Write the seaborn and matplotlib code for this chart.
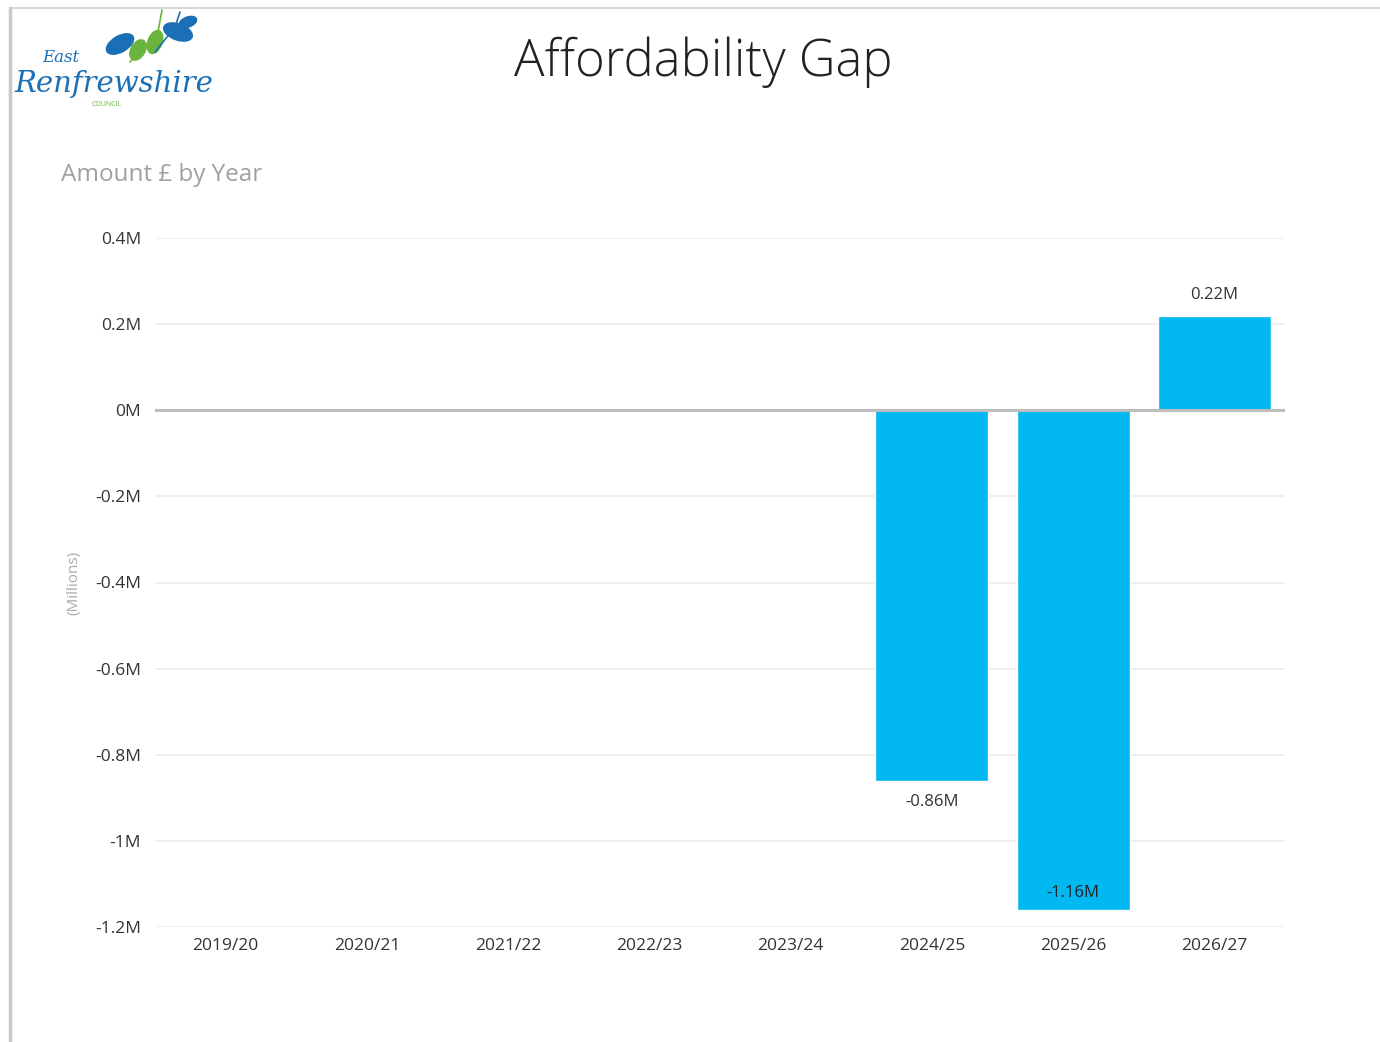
import matplotlib
matplotlib.use("Agg")
import matplotlib.pyplot as plt
import seaborn as sns
import pandas as pd
from matplotlib.lines import Line2D
from matplotlib.patches import Ellipse

years = ["2019/20", "2020/21", "2021/22", "2022/23", "2023/24", "2024/25", "2025/26", "2026/27"]
amounts = [0, 0, 0, 0, 0, -0.86, -1.16, 0.22]
label_values = [None, None, None, None, None, "-0.86M", "-1.16M", "0.22M"]
yticks = [0.4, 0.2, 0.0, -0.2, -0.4, -0.6, -0.8, -1.0, -1.2]
ytick_labels = ["0.4M", "0.2M", "0M", "-0.2M", "-0.4M", "-0.6M", "-0.8M", "-1M", "-1.2M"]

sns.set_theme(style="white")
plt.rcParams['font.family'] = ['Open Sans', 'DejaVu Sans']

df = pd.DataFrame({"Year": years, "Amount": amounts})

fig = plt.figure(figsize=(13.8, 10.42), dpi=100)
ax = fig.add_axes([155/1380, 1-927/1042, (1285-155)/1380, (927-238)/1042])

sns.barplot(data=df, x="Year", y="Amount", color="#01B8F0", saturation=1,
            width=0.8, ax=ax, zorder=3)

ax.set_ylim(-1.2, 0.4)
ax.set_xlim(-0.5, len(years) - 0.5)
ax.set_yticks(yticks)
ax.set_yticklabels(ytick_labels)
for t in yticks:
    if t == 0:
        continue
    ax.axhline(t, color="#ececec", lw=1.2, zorder=1)
ax.axhline(0, color="#bdbdbd", lw=2.2, zorder=4)

for s in ax.spines.values():
    s.set_visible(False)
ax.tick_params(axis="both", length=0, labelsize=12.5, colors="#333333")
ax.tick_params(axis="x", pad=8)
ax.tick_params(axis="y", pad=10)
ax.set_xlabel("")
ax.set_ylabel("(Millions)", color="#aaaaaa", fontsize=11, labelpad=10)

for i, (v, lab) in enumerate(zip(amounts, label_values)):
    if lab is None:
        continue
    if v >= 0:
        ax.text(i, v + 0.03, lab, ha="center", va="bottom", fontsize=12, color="#333333")
    elif v < -1.0:
        ax.text(i, v + 0.02, lab, ha="center", va="bottom", fontsize=12, color="#222222")
    else:
        ax.text(i, v - 0.03, lab, ha="center", va="top", fontsize=12, color="#333333")

fig.text(703/1380, 1-62/1042, "Affordability Gap", ha="center", va="center",
         fontsize=36.5, color="#222222", fontweight="light")
fig.text(61/1380, 1-175/1042, "Amount £ by Year", ha="left", va="center",
         fontsize=17.5, color="#a0a0a0")

# logo: text plus simple leaf shapes
fig.text(42/1380, 1-58/1042, "East", ha="left", va="center", fontsize=12,
         color="#1a6fb5", family="DejaVu Serif", style="italic")
fig.text(14/1380, 1-84/1042, "Renfrewshire", ha="left", va="center", fontsize=21,
         color="#1a6fb5", family="DejaVu Serif", style="italic")
fig.text(107/1380, 1-104/1042, "COUNCIL", ha="center", va="center", fontsize=5,
         color="#6ab43e")

lax = fig.add_axes([100/1380, 1-72/1042, 100/1380, 64/1042])
lax.set_xlim(0, 100)
lax.set_ylim(0, 64)
lax.axis("off")
lax.plot([30, 58, 62], [10, 40, 62], color="#6ab43e", lw=1.2)
lax.plot([55, 75, 80], [20, 45, 60], color="#1a6fb5", lw=1.2)
for (cx, cy, w, h, ang, col) in [
    (20, 28, 30, 16, 30, "#1a6fb5"),
    (38, 22, 22, 14, 60, "#6ab43e"),
    (55, 30, 24, 14, 70, "#6ab43e"),
    (78, 40, 30, 16, -20, "#1a6fb5"),
    (88, 50, 18, 10, 20, "#1a6fb5"),
]:
    lax.add_patch(Ellipse((cx, cy), w, h, angle=ang, color=col))

# frame lines
fig.add_artist(Line2D([10/1380, 10/1380], [1-8/1042, 0], color="#c8c8c8", lw=2.5))
fig.add_artist(Line2D([10/1380, 1], [1-8/1042, 1-8/1042], color="#d0d0d0", lw=1.2))

fig.savefig("out.png", dpi=100, facecolor="white")
